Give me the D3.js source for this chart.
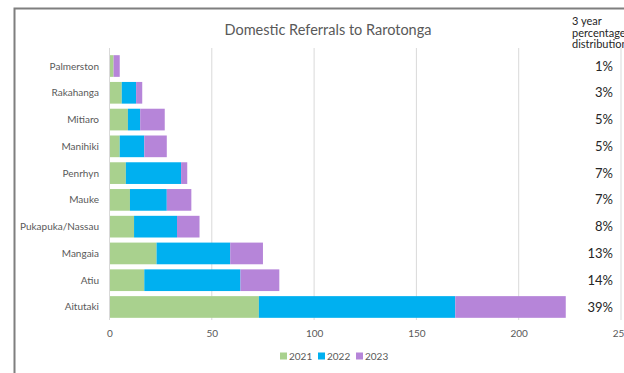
<!DOCTYPE html>
<html><head><meta charset="utf-8">
<script src="https://cdn.jsdelivr.net/npm/d3@7"></script>
<style>body{margin:0;background:#fff;overflow:hidden}svg{display:block}</style>
</head><body>
<svg id="c" width="624" height="373"></svg>
<script>
const categories = ["Palmerston","Rakahanga","Mitiaro","Manihiki","Penrhyn","Mauke","Pukapuka/Nassau","Mangaia","Atiu","Aitutaki"];
const years = ["2021","2022","2023"];
const v2021 = [2, 6, 9, 5, 8, 10, 12, 23, 17, 73];
const v2022 = [0, 7, 6, 12, 27, 18, 21, 36, 47, 96];
const v2023 = [3, 3, 12, 11, 3, 12, 11, 16, 19, 54];
const pctLabels = ["1%","3%","5%","5%","7%","7%","8%","13%","14%","39%"];
const xTicks = [0, 50, 100, 150, 200, 250];
const colors = ["#a9d18e", "#00b0f0", "#b685d9"];

const svg = d3.select("#c");
const font = "Lato, 'Open Sans', sans-serif";

// frame
svg.append("rect").attr("x", 14.5).attr("y", 8.5).attr("width", 640).attr("height", 400)
  .attr("fill", "none").attr("stroke", "#7f7f7f").attr("stroke-width", 2);

const x = d3.scaleLinear().domain([0, 250]).range([109.5, 621]);
const y = d3.scaleBand().domain(categories).range([52.5, 320.5]).paddingInner(0.19).paddingOuter(0.1);

// gridlines
svg.append("g").selectAll("line").data(xTicks.slice(1)).join("line")
  .attr("x1", d => x(d)).attr("x2", d => x(d)).attr("y1", 48).attr("y2", 320)
  .attr("stroke", "#d9d9d9").attr("stroke-width", 1);

// stacked bars
const rows = categories.map((c, i) => ({cat: c, "2021": v2021[i], "2022": v2022[i], "2023": v2023[i]}));
const stacked = d3.stack().keys(years)(rows);
svg.append("g").selectAll("g").data(stacked).join("g")
  .attr("fill", (d, i) => colors[i])
  .selectAll("rect").data(d => d).join("rect")
  .attr("x", d => x(d[0])).attr("width", d => x(d[1]) - x(d[0]))
  .attr("y", d => y(d.data.cat)).attr("height", y.bandwidth());

// y axis line
svg.append("line").attr("x1", x(0)).attr("x2", x(0)).attr("y1", 48).attr("y2", 320)
  .attr("stroke", "#d9d9d9");

// category labels
svg.append("g").selectAll("text").data(categories).join("text")
  .attr("x", 99).attr("y", d => y(d) + y.bandwidth() / 2)
  .attr("dy", "0.35em").attr("text-anchor", "end")
  .attr("font-family", font).attr("font-size", 10).attr("fill", "#595959")
  .text(d => d);

// x axis
const xAxis = svg.append("g").attr("transform", "translate(0,330)")
  .call(d3.axisBottom(x).tickValues(xTicks).tickSize(0).tickPadding(0));
xAxis.select(".domain").remove();
xAxis.selectAll("text").attr("font-family", font).attr("font-size", 10).attr("fill", "#595959").attr("dy", "0.71em");

// title
svg.append("text").attr("x", 328).attr("y", 35).attr("text-anchor", "middle")
  .attr("font-family", font).attr("font-size", 14.5).attr("fill", "#595959")
  .text("Domestic Referrals to Rarotonga");

// legend
const legendX = [280, 318, 356];
const lg = svg.append("g").selectAll("g").data(years).join("g")
  .attr("transform", (d, i) => `translate(${legendX[i]},356)`);
lg.append("rect").attr("x", 0).attr("y", -3.5).attr("width", 7).attr("height", 7)
  .attr("fill", (d, i) => colors[i]);
lg.append("text").attr("x", 9).attr("dy", "0.35em")
  .attr("font-family", font).attr("font-size", 10).attr("fill", "#595959").text(d => d);

// percentage column
const hdr = svg.append("text").attr("font-family", font).attr("font-size", 11).attr("fill", "#262626");
["3 year", "percentage", "distribution"].forEach((t, i) =>
  hdr.append("tspan").attr("x", 572).attr("y", 25 + i * 11.5).text(t));
svg.append("g").selectAll("text").data(pctLabels).join("text")
  .attr("x", 613).attr("y", (d, i) => y(categories[i]) + y.bandwidth() / 2)
  .attr("dy", "0.35em").attr("text-anchor", "end")
  .attr("font-family", font).attr("font-size", 13).attr("fill", "#262626")
  .text(d => d);
</script>
</body></html>
